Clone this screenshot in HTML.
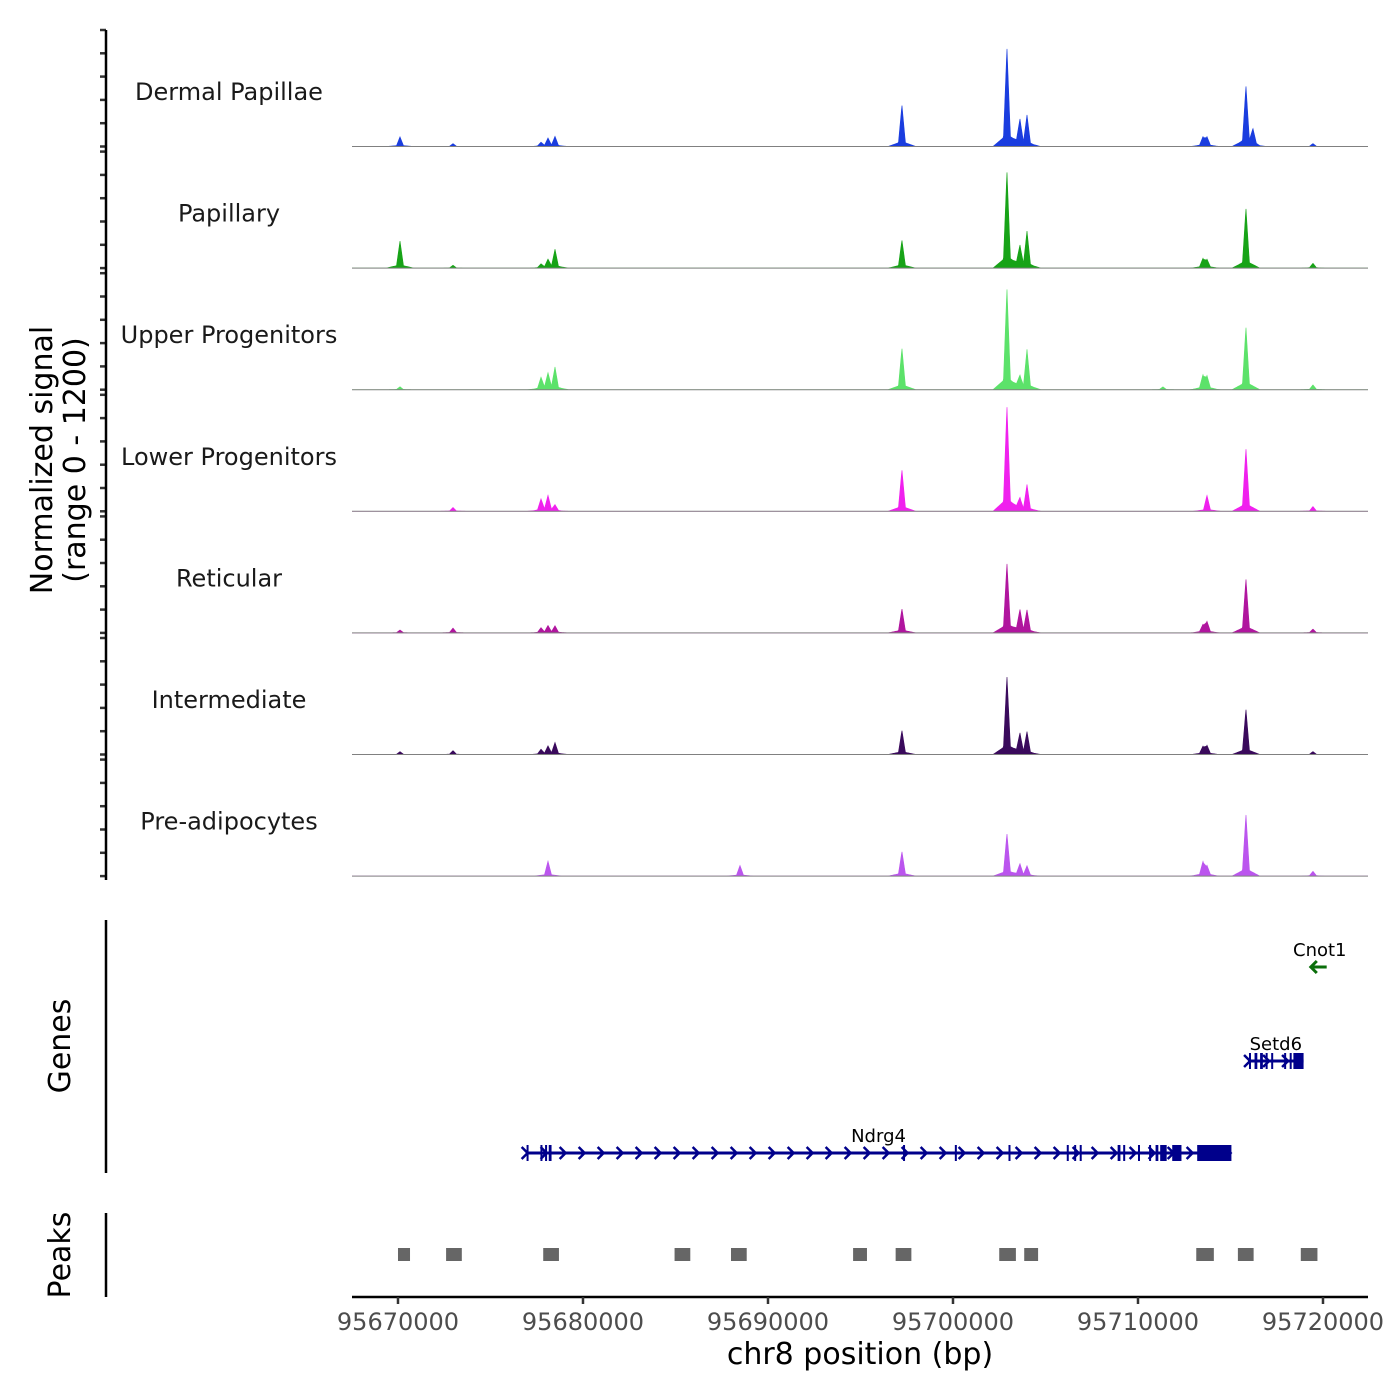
<!DOCTYPE html>
<html><head><meta charset="utf-8"><style>
html,body{margin:0;padding:0;background:#fff}
svg{display:block;font-family:"DejaVu Sans","Liberation Sans",sans-serif}
</style></head><body>
<svg id="chart" width="1400" height="1400" viewBox="0 0 1400 1400" xmlns="http://www.w3.org/2000/svg">
<g id="tracks"></g>
<g id="yaxis"></g>
<g id="genes"></g>
<g id="peaks"></g>
<g id="xaxis"></g>
<text transform="translate(52,460) rotate(-90)" text-anchor="middle" font-size="30" fill="#000">Normalized signal</text>
<text transform="translate(85,460) rotate(-90)" text-anchor="middle" font-size="30" fill="#000">(range 0 - 1200)</text>
<text transform="translate(70,1046) rotate(-90)" text-anchor="middle" font-size="30" fill="#000">Genes</text>
<text transform="translate(70,1255) rotate(-90)" text-anchor="middle" font-size="30" fill="#000">Peaks</text>
<text x="860" y="1364" text-anchor="middle" font-size="30" fill="#000">chr8 position (bp)</text>
</svg>
<script>
const trackNames = ["Dermal Papillae","Papillary","Upper Progenitors","Lower Progenitors","Reticular","Intermediate","Pre-adipocytes"];
const trackColors = ["#1a3ddf","#17a317","#5ce26a","#f020ee","#b0159e","#3a0a5c","#bb55ee"];
const peakPositions = [95670108,95672973,95677730,95678108,95678487,95686000,95688486,95697240,95702916,95703620,95704000,95711350,95713512,95713728,95715835,95716213,95719456];
const dermalValues = [100,30,40,80,100,0,0,430,1020,260,310,0,95,95,620,150,30];
const papillaryValues = [280,30,40,80,190,0,0,290,1000,210,370,0,95,85,620,0,50];
const upperValues = [30,0,120,155,225,0,0,430,1050,120,410,30,145,135,650,0,50];
const lowerValues = [0,40,120,155,60,0,0,430,1090,120,270,0,0,165,650,0,50];
const reticularValues = [30,50,50,70,70,0,0,250,720,225,225,0,80,115,560,0,40];
const intermediateValues = [30,40,50,80,120,0,0,250,810,205,225,0,80,90,470,0,30];
const preadipValues = [0,0,0,155,0,0,110,255,440,120,100,0,145,100,640,0,50];
const seriesValues = [dermalValues,papillaryValues,upperValues,lowerValues,reticularValues,intermediateValues,preadipValues];
const xTicks = [95670000,95680000,95690000,95700000,95710000,95720000];
const peakStarts = [95670000,95672600,95677850,95684950,95688000,95694600,95696900,95702500,95703850,95713150,95715400,95718800];
const peakEnds = [95670650,95673450,95678700,95685800,95688850,95695350,95697750,95703400,95704600,95714100,95716250,95719700];
const genes = [
 {name:"Ndrg4",start:95676900,end:95715050,strand:1,row:2,color:"#00008b",
  exons:[[95676950,95677050],[95677700,95677800],[95677950,95678050],[95678150,95678300],[95697300,95697360],[95700100,95700160],[95703000,95703060],[95706150,95706250],[95706550,95706650],[95706850,95706950],[95708900,95709050],[95709200,95709300],[95710000,95710100],[95710600,95710700],[95710950,95711100],[95711200,95711550],[95711850,95712350],[95713200,95715050]]},
 {name:"Setd6",start:95715950,end:95718950,strand:1,row:1,color:"#00008b",
  exons:[[95716000,95716100],[95716300,95716450],[95716600,95716750],[95716900,95717000],[95717200,95717300],[95717900,95718000],[95718200,95718300],[95718400,95718950]]},
 {name:"Cnot1",start:95719450,end:95720200,strand:-1,row:0,color:"#0a6e0a",exons:[]}
];
const NS="http://www.w3.org/2000/svg";
const X0=95667514, PX0=352, PXPERBP=185/10000;
function xs(bp){return PX0+(bp-X0)*PXPERBP;}
const trackTop0=30, trackH=121.6, trackInner=116.5, yMax=1200;
function ys(v,base){return base-v/yMax*trackInner;}
function mk(tag,attrs,parent){const e=document.createElementNS(NS,tag);for(const k in attrs)e.setAttribute(k,attrs[k]);parent.appendChild(e);return e;}
const tracksG=document.getElementById('tracks');
const yAxisG=document.getElementById('yaxis');
for(let t=0;t<trackNames.length;t++){
  const top=trackTop0+t*trackH, base=top+trackInner;
  const g=mk('g',{},tracksG);
  
  
  const vals=seriesValues[t];
  let d='M352,'+base;
  for(let px=352;px<=1368;px+=0.5){
    let v=0;
    for(let i=0;i<peakPositions.length;i++){
      if(!vals[i])continue;
      const dx=Math.abs(px-xs(peakPositions[i]));
      if(dx<3.5) v+=vals[i]*0.88*(1-dx/3.5);
      if(dx<14) v+=vals[i]*0.12*(1-dx/14);
    }
    d+=' L'+px+','+ys(v,base).toFixed(2);
  }
  d+=' L1368,'+base+' Z';
  const p=mk('path',{d:d,fill:trackColors[t],stroke:trackColors[t],'stroke-width':0.6},g);
  
  
  const bl=mk('line',{x1:352,x2:1368,y1:base,y2:base,stroke:'#808080','stroke-width':1},g);
  
  
  const lb=mk('text',{x:229,y:top+70,'text-anchor':'middle','font-size':24,fill:'#1a1a1a'},g);
  lb.textContent=trackNames[t];
  
  
  for(let k=0;k<=5;k++){
    const y=top+k*trackInner/5;
    const tk=mk('line',{x1:100,x2:106,y1:y,y2:y,stroke:'#333','stroke-width':2.5},yAxisG);
    
    
  }
}
mk('line',{x1:106,x2:106,y1:30,y2:880,stroke:'#000','stroke-width':2.5},yAxisG);
const genesG=document.getElementById('genes');
mk('line',{x1:106,x2:106,y1:920,y2:1173,stroke:'#000','stroke-width':2.5},genesG);
const rowY=[967,1061,1153];
for(const gn of genes){
  const g=mk('g',{},genesG);
  
  
  const y=rowY[gn.row], x1=xs(gn.start), x2=xs(gn.end);
  mk('line',{x1:x1,x2:x2,y1:y,y2:y,stroke:gn.color,'stroke-width':3},g);
  const step=19;
  if(gn.strand>0){
    for(let x=x1;x<=x2;x+=step){mk('path',{d:`M${x-4},${y-6} L${x+2},${y} L${x-4},${y+6}`,fill:'none',stroke:gn.color,'stroke-width':2.5},g);}
  } else {
    mk('path',{d:`M${x1+4},${y-6} L${x1-2},${y} L${x1+4},${y+6}`,fill:'none',stroke:gn.color,'stroke-width':3},g);
  }
  for(const ex of gn.exons){
    const ex1=xs(ex[0]),ex2=xs(ex[1]);
    mk('rect',{x:ex1,y:y-8,width:Math.max(2,ex2-ex1),height:16,fill:gn.color},g);
  }
  const lb=mk('text',{x:(x1+x2)/2,y:y-11,'text-anchor':'middle','font-size':18,fill:'#000'},g);
  lb.textContent=gn.name;
  
  
}
const peaksG=document.getElementById('peaks');
mk('line',{x1:106,x2:106,y1:1213,y2:1297,stroke:'#000','stroke-width':2.5},peaksG);
for(let i=0;i<peakStarts.length;i++){
  const r=mk('rect',{x:xs(peakStarts[i]),y:1248,width:xs(peakEnds[i])-xs(peakStarts[i]),height:13,fill:'#666'},peaksG);
  
  
}
const xG=document.getElementById('xaxis');
mk('line',{x1:352,x2:1368,y1:1297,y2:1297,stroke:'#000','stroke-width':2.5},xG);
for(const t of xTicks){
  const tk=mk('line',{x1:xs(t),x2:xs(t),y1:1297,y2:1304,stroke:'#333','stroke-width':2.5},xG);
  
  
  const lb=mk('text',{x:xs(t),y:1330,'text-anchor':'middle','font-size':24,fill:'#4d4d4d'},xG);
  lb.textContent=String(t);
  
  
}
</script>
</body></html>
